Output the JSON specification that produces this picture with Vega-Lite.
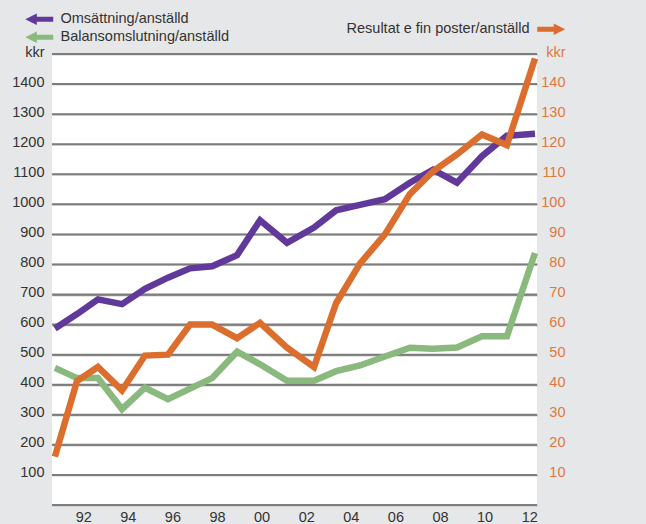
{
  "$schema": "https://vega.github.io/schema/vega-lite/v6.json",
  "width": 485,
  "height": 451,
  "autosize": {"type": "none"},
  "padding": {"left": 52, "top": 54, "right": 109, "bottom": 19},
  "background": "#e6e7e9",
  "config": {"view": {"fill": "white", "stroke": null}, "font": "Liberation Sans"},
  "datasets": {
    "rutnat": [
      {"value": 0}, {"value": 100}, {"value": 200}, {"value": 300}, {"value": 400}, {"value": 500},
      {"value": 600}, {"value": 700}, {"value": 800}, {"value": 900}, {"value": 1000}, {"value": 1100},
      {"value": 1200}, {"value": 1300}, {"value": 1400}, {"value": 1500}
    ],
    "vanster": [
      {"year": 1990.73, "serie": "Omsättning/anställd", "value": 587},
      {"year": 1991.72, "serie": "Omsättning/anställd", "value": 635},
      {"year": 1992.66, "serie": "Omsättning/anställd", "value": 684},
      {"year": 1993.74, "serie": "Omsättning/anställd", "value": 668},
      {"year": 1994.77, "serie": "Omsättning/anställd", "value": 719},
      {"year": 1995.80, "serie": "Omsättning/anställd", "value": 756},
      {"year": 1996.79, "serie": "Omsättning/anställd", "value": 787},
      {"year": 1997.78, "serie": "Omsättning/anställd", "value": 794},
      {"year": 1998.90, "serie": "Omsättning/anställd", "value": 831},
      {"year": 1999.93, "serie": "Omsättning/anställd", "value": 947},
      {"year": 2001.14, "serie": "Omsättning/anställd", "value": 872},
      {"year": 2002.35, "serie": "Omsättning/anställd", "value": 923},
      {"year": 2003.34, "serie": "Omsättning/anställd", "value": 980},
      {"year": 2004.41, "serie": "Omsättning/anställd", "value": 998},
      {"year": 2005.53, "serie": "Omsättning/anställd", "value": 1017},
      {"year": 2006.65, "serie": "Omsättning/anställd", "value": 1072},
      {"year": 2007.69, "serie": "Omsättning/anställd", "value": 1115},
      {"year": 2008.76, "serie": "Omsättning/anställd", "value": 1072},
      {"year": 2009.88, "serie": "Omsättning/anställd", "value": 1160},
      {"year": 2011.00, "serie": "Omsättning/anställd", "value": 1228},
      {"year": 2012.26, "serie": "Omsättning/anställd", "value": 1235},
      {"year": 1990.73, "serie": "Balansomslutning/anställd", "value": 456},
      {"year": 1991.72, "serie": "Balansomslutning/anställd", "value": 422},
      {"year": 1992.66, "serie": "Balansomslutning/anställd", "value": 422},
      {"year": 1993.74, "serie": "Balansomslutning/anställd", "value": 319},
      {"year": 1994.77, "serie": "Balansomslutning/anställd", "value": 390},
      {"year": 1995.80, "serie": "Balansomslutning/anställd", "value": 352},
      {"year": 1996.79, "serie": "Balansomslutning/anställd", "value": 387},
      {"year": 1997.78, "serie": "Balansomslutning/anställd", "value": 422},
      {"year": 1998.90, "serie": "Balansomslutning/anställd", "value": 510},
      {"year": 1999.93, "serie": "Balansomslutning/anställd", "value": 468},
      {"year": 2001.14, "serie": "Balansomslutning/anställd", "value": 413},
      {"year": 2002.35, "serie": "Balansomslutning/anställd", "value": 413},
      {"year": 2003.34, "serie": "Balansomslutning/anställd", "value": 445},
      {"year": 2004.41, "serie": "Balansomslutning/anställd", "value": 464},
      {"year": 2005.53, "serie": "Balansomslutning/anställd", "value": 494},
      {"year": 2006.65, "serie": "Balansomslutning/anställd", "value": 523},
      {"year": 2007.69, "serie": "Balansomslutning/anställd", "value": 520},
      {"year": 2008.76, "serie": "Balansomslutning/anställd", "value": 524},
      {"year": 2009.88, "serie": "Balansomslutning/anställd", "value": 561},
      {"year": 2011.00, "serie": "Balansomslutning/anställd", "value": 561},
      {"year": 2012.26, "serie": "Balansomslutning/anställd", "value": 838}
    ],
    "hoger": [
      {"year": 1990.73, "serie": "Resultat e fin poster/anställd", "value": 16.1},
      {"year": 1991.72, "serie": "Resultat e fin poster/anställd", "value": 41.2},
      {"year": 1992.66, "serie": "Resultat e fin poster/anställd", "value": 45.9},
      {"year": 1993.74, "serie": "Resultat e fin poster/anställd", "value": 38.1},
      {"year": 1994.77, "serie": "Resultat e fin poster/anställd", "value": 49.7},
      {"year": 1995.80, "serie": "Resultat e fin poster/anställd", "value": 50.0},
      {"year": 1996.79, "serie": "Resultat e fin poster/anställd", "value": 60.0},
      {"year": 1997.78, "serie": "Resultat e fin poster/anställd", "value": 60.0},
      {"year": 1998.90, "serie": "Resultat e fin poster/anställd", "value": 55.5},
      {"year": 1999.93, "serie": "Resultat e fin poster/anställd", "value": 60.6},
      {"year": 2001.14, "serie": "Resultat e fin poster/anställd", "value": 52.3},
      {"year": 2002.35, "serie": "Resultat e fin poster/anställd", "value": 45.9},
      {"year": 2003.34, "serie": "Resultat e fin poster/anställd", "value": 67.1},
      {"year": 2004.41, "serie": "Resultat e fin poster/anställd", "value": 80.3},
      {"year": 2005.53, "serie": "Resultat e fin poster/anställd", "value": 90.0},
      {"year": 2006.65, "serie": "Resultat e fin poster/anställd", "value": 103.4},
      {"year": 2007.69, "serie": "Resultat e fin poster/anställd", "value": 111.0},
      {"year": 2008.76, "serie": "Resultat e fin poster/anställd", "value": 116.6},
      {"year": 2009.88, "serie": "Resultat e fin poster/anställd", "value": 123.2},
      {"year": 2011.00, "serie": "Resultat e fin poster/anställd", "value": 119.7},
      {"year": 2012.26, "serie": "Resultat e fin poster/anställd", "value": 148.5}
    ]
  },
  "layer": [
    {
      "data": {"name": "rutnat"},
      "mark": {"type": "rule", "color": "#7d7d7d", "strokeWidth": 2, "opacity": 1},
      "encoding": {
        "x": {"datum": 1990.6, "type": "quantitative"},
        "x2": {"datum": 2012.35},
        "y": {"field": "value", "type": "quantitative", "scale": {"domain": [0, 1500], "nice": false}, "axis": null}
      }
    },
    {
      "data": {"name": "vanster"},
      "mark": {"type": "line", "strokeWidth": 6.5, "strokeCap": "butt", "strokeJoin": "miter"},
      "encoding": {
        "x": {
          "field": "year", "type": "quantitative",
          "scale": {"domain": [1990.6, 2012.35], "nice": false, "zero": false},
          "axis": {
            "values": [1992, 1994, 1996, 1998, 2000, 2002, 2004, 2006, 2008, 2010, 2012],
            "labelExpr": "slice(toString(datum.value), 2)",
            "title": null, "grid": false, "domain": false, "ticks": false,
            "labelPadding": 5, "labelFlush": false, "labelOverlap": false,
            "labelFont": "Liberation Sans", "labelFontSize": 14.5, "labelColor": "#333333"
          }
        },
        "y": {
          "field": "value", "type": "quantitative",
          "scale": {"domain": [0, 1500], "nice": false},
          "axis": {
            "orient": "left",
            "values": [0, 100, 200, 300, 400, 500, 600, 700, 800, 900, 1000, 1100, 1200, 1300, 1400, 1500],
            "format": "d",
            "labelExpr": "datum.value == 1500 ? 'kkr' : (datum.value == 0 ? '' : datum.label)",
            "title": null, "grid": true, "gridColor": "#999999", "gridWidth": 1.5,
            "domain": false, "ticks": false, "labelPadding": 8,
            "labelOverlap": false, "labelBound": false, "labelFlush": false, "labelOffset": -2,
            "labelFont": "Liberation Sans", "labelFontSize": 14.5, "labelColor": "#333333"
          }
        },
        "color": {
          "field": "serie", "type": "nominal",
          "scale": {"domain": ["Omsättning/anställd", "Balansomslutning/anställd"], "range": ["#60399a", "#8ab97d"]},
          "legend": {
            "title": null, "orient": "none", "legendX": -20, "legendY": -42, "direction": "vertical",
            "symbolType": "M-2,0L-0.35,-0.83L-0.35,-0.36L2,-0.36L2,0.36L-0.35,0.36L-0.35,0.83Z",
            "symbolSize": 196, "symbolStrokeWidth": 0, "labelOffset": 14, "rowPadding": 3, "padding": 0,
            "labelFont": "Liberation Sans", "labelFontSize": 14.5, "labelColor": "#333333", "labelLimit": 0,
            "encode": {"symbols": {"update": {
              "fill": {"signal": "datum.value === 'Omsättning/anställd' ? '#60399a' : '#8ab97d'"},
              "stroke": {"value": "transparent"}, "opacity": {"value": 1}, "fillOpacity": {"value": 1}
            }}}
          }
        }
      }
    },
    {
      "data": {"name": "hoger"},
      "mark": {"type": "line", "strokeWidth": 6.5, "strokeCap": "butt", "strokeJoin": "miter"},
      "encoding": {
        "x": {"field": "year", "type": "quantitative"},
        "y": {
          "field": "value", "type": "quantitative",
          "scale": {"domain": [0, 150], "nice": false},
          "axis": {
            "orient": "right",
            "values": [0, 10, 20, 30, 40, 50, 60, 70, 80, 90, 100, 110, 120, 130, 140, 150],
            "format": "d",
            "labelExpr": "datum.value == 150 ? 'kkr' : (datum.value == 0 ? '' : datum.label)",
            "title": null, "grid": false, "domain": false, "ticks": false,
            "labelPadding": 28, "labelAlign": "right", "labelOffset": -2,
            "labelOverlap": false, "labelBound": false, "labelFlush": false,
            "labelFont": "Liberation Sans", "labelFontSize": 14.5, "labelColor": "#e0783a"
          }
        },
        "color": {
          "field": "serie", "type": "nominal",
          "scale": {"domain": ["Resultat e fin poster/anställd"], "range": ["#dc6e2d"]},
          "legend": {
            "title": null, "orient": "none", "legendX": 492, "legendY": -32,
            "symbolType": "M2,0L0.35,-0.83L0.35,-0.36L-2,-0.36L-2,0.36L0.35,0.36L0.35,0.83Z",
            "symbolSize": 196, "symbolStrokeWidth": 0, "labelOffset": -29, "labelAlign": "right", "padding": 0,
            "labelFont": "Liberation Sans", "labelFontSize": 14.5, "labelColor": "#333333", "labelLimit": 0,
            "encode": {"symbols": {"update": {
              "fill": {"value": "#dc6e2d"},
              "stroke": {"value": "transparent"}, "opacity": {"value": 1}, "fillOpacity": {"value": 1}
            }}}
          }
        }
      }
    }
  ],
  "resolve": {"scale": {"y": "independent", "color": "independent"}}
}
